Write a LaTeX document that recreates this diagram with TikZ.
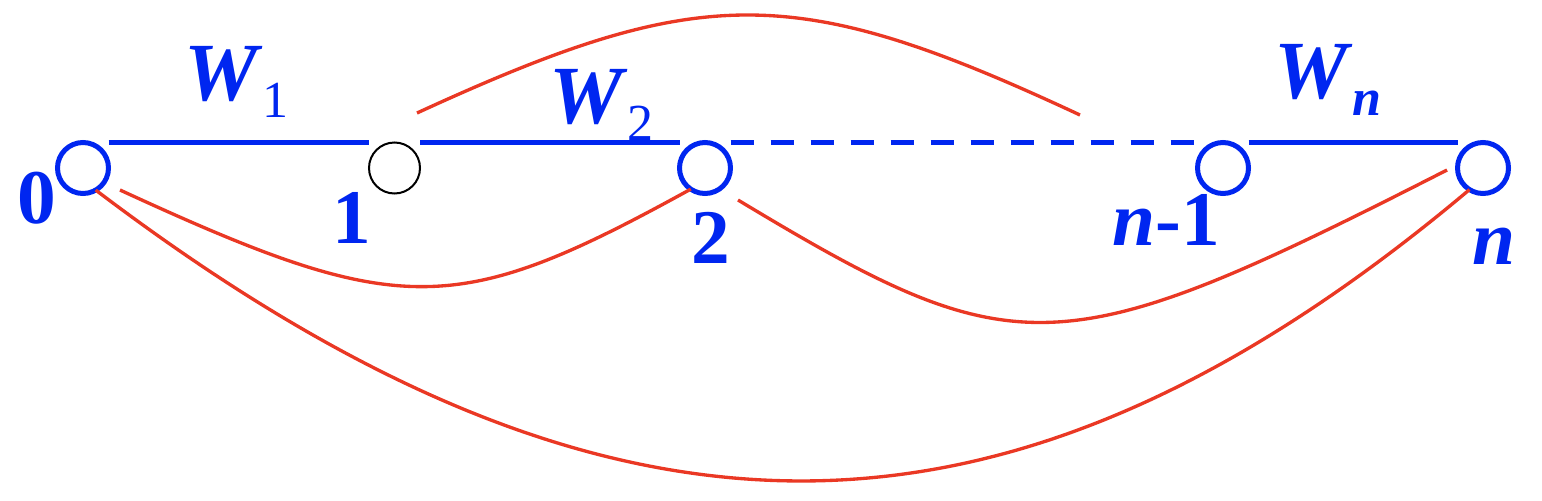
\documentclass[tikz,border=0pt]{standalone}
\usepackage{fontspec}
\setmainfont{Liberation Serif}
\usetikzlibrary{calc}
\definecolor{vblue}{RGB}{0,38,240}
\definecolor{ered}{RGB}{234,56,36}
\newcommand{\wsub}[1]{{\fontsize{62}{62}\selectfont\textit{W}}\raisebox{-12.75pt}{\fontsize{39}{39}\selectfont #1}}
\tikzset{
  vertex/.style={circle, draw=vblue, line width=3.75pt, minimum size=38.25pt, inner sep=0pt, outer sep=0pt},
  wline/.style={draw=vblue, line width=3.75pt},
  redline/.style={draw=ered, line width=2.5pt},
  lbl/.style={text=vblue, inner sep=0pt, font=\fontsize{58}{58}\selectfont\bfseries},
}
\begin{document}
\begin{tikzpicture}[x=0.75pt,y=0.75pt,yscale=-1,xscale=1]
\useasboundingbox (0,0) rectangle (1542,500);

%Shape: Circles
\node[vertex] (v0) at (83,168) {};
\node[vertex, draw=black, line width=1.5pt] (v1) at (394.5,168) {};
\node[vertex] (v2) at (705,168) {};
\node[vertex] (v3) at (1223,168) {};
\node[vertex] (v4) at (1483,168) {};

%Straight Lines
\draw[wline] (v0.north -| v0.east) -- (v1.north -| v1.west);
\draw[wline] (v1.north -| v1.east) -- (v2.north -| v2.west);
\draw[wline, dash pattern=on 17.25pt off 12.75pt] (v2.north -| v2.east) -- (v3.north -| v3.west);
\draw[wline] (v3.north -| v3.east) -- (v4.north -| v4.west);

%Curve Lines
\draw[redline] ($(v1)+(22.5,-55)$) .. controls (702,-18) and (795,-18) .. ($(v3)+(-143,-53)$);
\draw[redline] ($(v0)+(37,22)$) .. controls (400,319) and (455,319) .. (v2.-124);
\draw[redline] ($(v2)+(33,32)$) .. controls (1017,368) and (1059,368) .. ($(v4)+(-36,2)$);
\draw[redline] (v0.-60) .. controls (610,580) and (1010,576) .. (v4.-122);

% Text Node
\node[lbl] (l0) at (37,198) {0};
\node[lbl] (l1) at (352,218) {1};
\node[lbl] (l2) at (711,238) {2};
\node[lbl] (l3) at (1166,220) {{\itshape n}-1};
\node[lbl] (l4) at (1494,246) {\itshape n};
% Text Node
\node[lbl, anchor=base west] (w1) at (184,100) {\wsub{\mdseries 1}};
\node[lbl, anchor=base west] (w2) at (549,123) {\wsub{\mdseries 2}};
\node[lbl, anchor=base west] (wn) at (1274,98) {\wsub{\itshape n}};

\end{tikzpicture}
\end{document}
